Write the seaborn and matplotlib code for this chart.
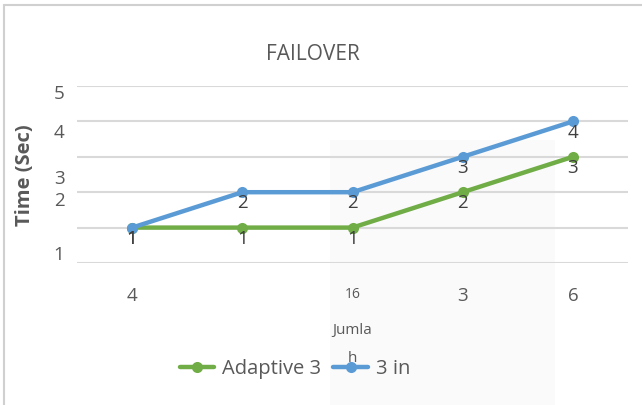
import pandas as pd
import matplotlib.pyplot as plt
import seaborn as sns
from matplotlib.lines import Line2D
from matplotlib.patches import Rectangle

# data
categories = ["4", "", "16", "3", "6"]
adaptive = [1, 1, 1, 2, 3]
three_in = [1, 2, 2, 3, 4]
series_names = ["Adaptive 3", "3 in"]
ytick_labels = ["1", "2", "3", "4", "5"]

pos = list(range(len(categories)))
df = pd.DataFrame({
    "pos": pos * 2,
    "Time": adaptive + three_in,
    "series": [series_names[0]] * len(pos) + [series_names[1]] * len(pos),
})

sns.set_style("white")
plt.rcParams['font.family'] = ['Open Sans', 'DejaVu Sans']
txt = "#595959"

fig = plt.figure(figsize=(6.42, 4.05), dpi=100)

# faint shaded block behind the plot (scan artefact)
fig.patches.append(Rectangle((330 / 642, 0), 225 / 642, 1 - 140 / 405,
                             transform=fig.transFigure, facecolor="#FAFAFA",
                             edgecolor="none", zorder=-5))
# chart frame
fig.add_artist(Line2D([4 / 642, 4 / 642], [0, 1 - 5 / 405], color="#D0D0D0", lw=1.5))
fig.add_artist(Line2D([4 / 642, 1], [1 - 5 / 405, 1 - 5 / 405], color="#D0D0D0", lw=1.5))

ax = fig.add_axes([77 / 642, 1 - 263 / 405, 551 / 642, 177 / 405])
ax.set_facecolor("none")

palette = {"Adaptive 3": "#70AD47", "3 in": "#5B9BD5"}
sns.lineplot(data=df, x="pos", y="Time", hue="series", hue_order=series_names,
             palette=palette, marker="o", markersize=8, markeredgewidth=0,
             linewidth=3.2, ax=ax, legend=True)
for ln in ax.lines:
    ln.set_clip_on(False)

# data labels below points
for vals in (adaptive, three_in):
    for x, v in zip(pos, vals):
        ax.annotate(str(v), (x, v), xytext=(0, -8), textcoords="offset points",
                    ha="center", va="center", fontsize=13.5, color="#404040")

ax.set_xlim(-0.5, len(categories) - 0.5)
ax.set_ylim(0, 5)
ax.set_xticks(pos)
ax.set_xticklabels(categories, fontsize=13.5, color=txt)
for lab in ax.get_xticklabels():
    if lab.get_text() == "16":
        lab.set_fontsize(10)
ax.set_yticks([0.29, 1.8, 2.44, 3.72, 4.83])
ax.set_yticklabels(ytick_labels, fontsize=13.5, color=txt)
ax.set_yticks(range(6), minor=True)
ax.grid(which="minor", axis="y", color="#D9D9D9", lw=1.5)
ax.grid(which="major", visible=False)
ax.tick_params(axis="both", which="both", length=0)
ax.tick_params(axis="x", pad=17)
ax.tick_params(axis="y", pad=9)
for s in ax.spines.values():
    s.set_visible(False)

ax.set_xlabel("Jumla\nh", fontsize=11, color=txt, linespacing=2.2, labelpad=13)
ax.set_ylabel("")
fig.text(25 / 642, 1 - 175 / 405, "Time (Sec)", rotation=90, ha="center", va="center",
         fontsize=14.5, fontweight="bold", color=txt)
fig.text(313 / 642, 1 - 55 / 405, "FAILOVER", ha="center", va="center",
         fontsize=15, color=txt)

ax.legend_.remove()
handles = [Line2D([], [], color=palette[n], lw=3.2, marker="o", markersize=8,
                  markeredgewidth=0) for n in series_names]
fig.legend(handles, series_names, loc="center", bbox_to_anchor=(295 / 642, 1 - 369 / 405),
           ncol=2, frameon=False, fontsize=14.5, handlelength=1.7, handletextpad=0.4,
           columnspacing=0.6, labelcolor=txt)

fig.savefig("out.png", dpi=100)
